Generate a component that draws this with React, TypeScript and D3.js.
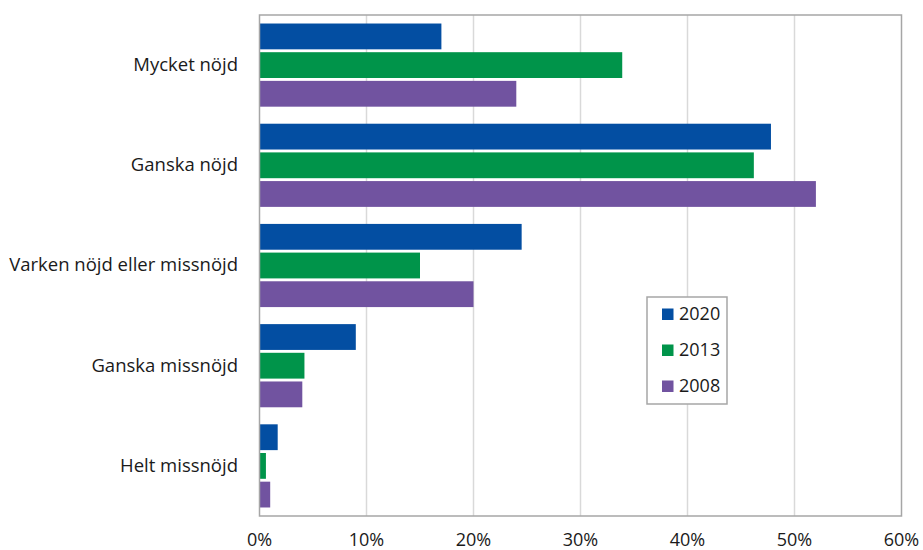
import React from "react";
import * as d3 from "d3";

const categories = ["Mycket nöjd", "Ganska nöjd", "Varken nöjd eller missnöjd", "Ganska missnöjd", "Helt missnöjd"];
const seriesNames = ["2020", "2013", "2008"];
const values2020 = [17, 47.8, 24.5, 9.0, 1.7];
const values2013 = [33.9, 46.2, 15.0, 4.2, 0.6];
const values2008 = [24.0, 52.0, 20.0, 4.0, 1.0];
const xTicks = [0, 10, 20, 30, 40, 50, 60];
const colors = ["#034EA2", "#00944A", "#7153A0"];

export default function App() {
  const W = 923, H = 550;
  const left = 259.5, right = 901.5, top = 15, bottom = 516;
  const x = d3.scaleLinear().domain([0, 60]).range([left, right]);
  const y = d3.scaleBand<string>().domain(categories).range([top, bottom]).paddingInner(0.17).paddingOuter(0.085);
  const inner = d3.scaleBand<string>().domain(seriesNames).range([0, y.bandwidth()]).paddingInner(0.1);
  const series = [values2020, values2013, values2008];
  const font = "'Open Sans', sans-serif";
  const fs = 18;
  return (
    <svg width={W} height={H} style={{ position: "absolute", left: 0, top: 0, background: "#fff" }}>
      {xTicks.slice(1, -1).map((t) => (
        <line key={t} x1={x(t)} x2={x(t)} y1={top} y2={bottom} stroke="#d9d9d9" strokeWidth={1.5} />
      ))}
      {categories.map((c, i) =>
        series.map((vals, s) => (
          <rect
            key={c + s}
            x={x(0)}
            y={(y(c) as number) + (inner(seriesNames[s]) as number)}
            width={x(vals[i]) - x(0)}
            height={inner.bandwidth()}
            fill={colors[s]}
          />
        ))
      )}
      <rect x={left} y={top} width={right - left} height={bottom - top} fill="none" stroke="#a6a6a6" strokeWidth={1.5} />
      {categories.map((c) => (
        <text key={c} x={238} y={(y(c) as number) + y.bandwidth() / 2 + 1} textAnchor="end" dominantBaseline="middle" fontFamily={font} fontSize={18.5} fill="#1a1a1a">
          {c}
        </text>
      ))}
      {xTicks.map((t) => (
        <text key={t} x={x(t)} y={541} textAnchor="middle" dominantBaseline="middle" fontFamily={font} fontSize={fs} fill="#1a1a1a">
          {t + "%"}
        </text>
      ))}
      <rect x={647} y={297} width={80} height={107} fill="#fff" stroke="#a6a6a6" strokeWidth={1.5} />
      {seriesNames.map((n, i) => (
        <g key={n}>
          <rect x={662} y={308.5 + i * 36} width={11.5} height={11.5} fill={colors[i]} />
          <text x={679} y={315 + i * 36} dominantBaseline="middle" fontFamily={font} fontSize={fs} fill="#1a1a1a">
            {n}
          </text>
        </g>
      ))}
    </svg>
  );
}
